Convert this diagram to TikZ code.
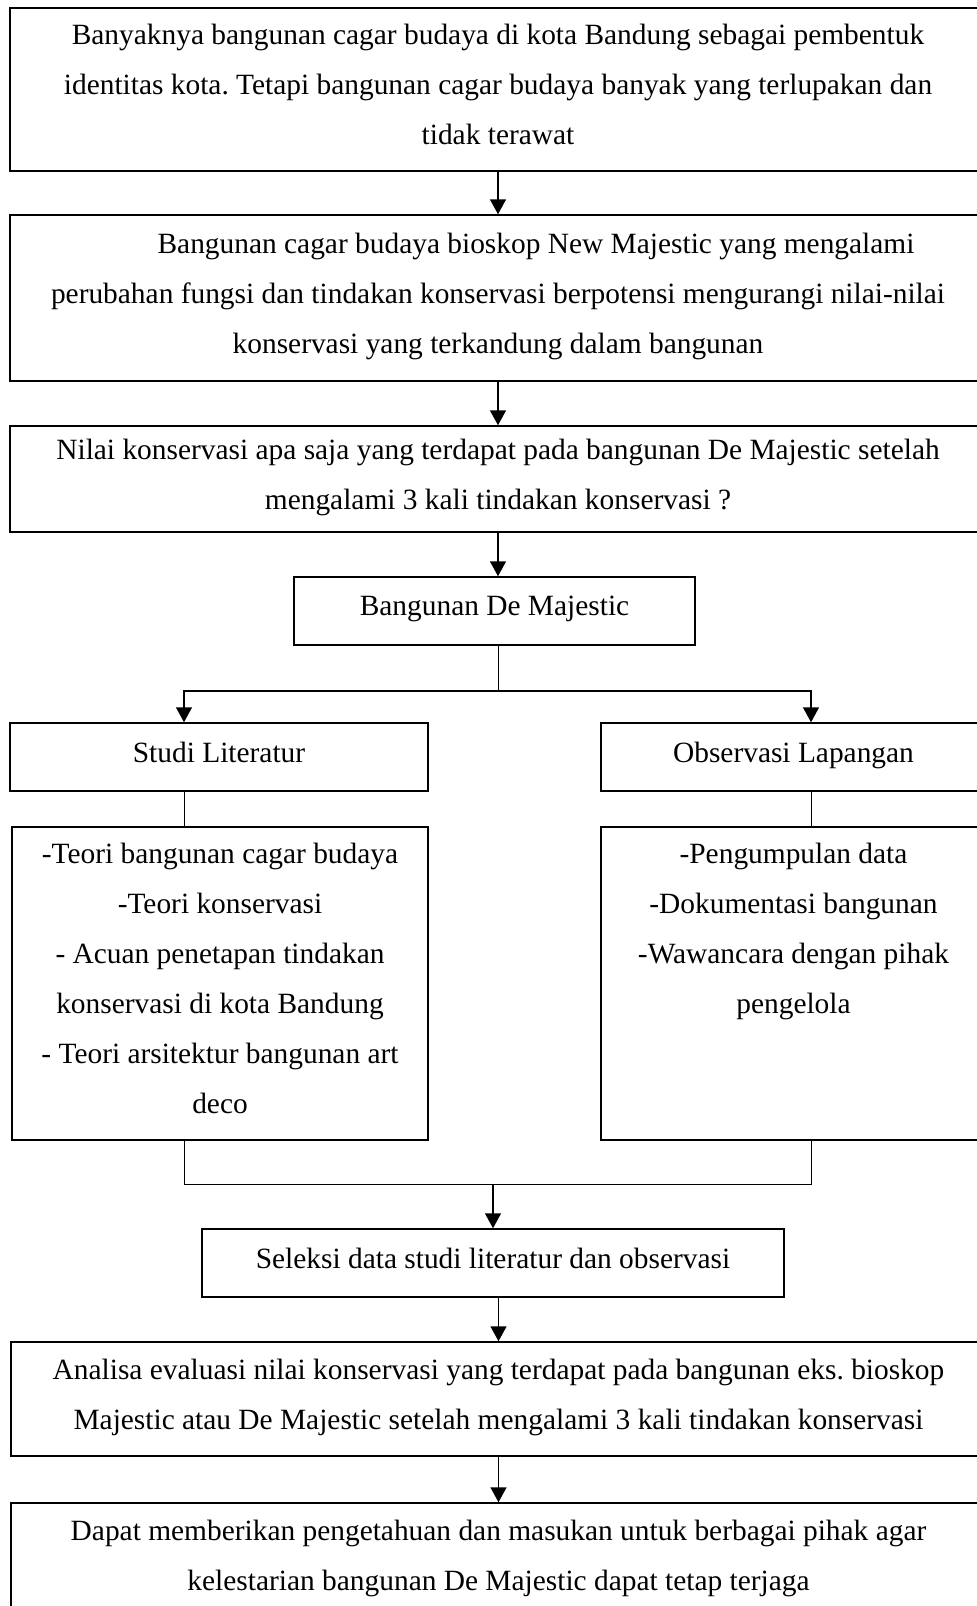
\documentclass[tikz,border=0pt]{standalone}
\usepackage{fontspec}
\setmainfont{Liberation Serif}
\usetikzlibrary{arrows.meta}
\frenchspacing

\tikzset{
  kotak/.style={draw, line width=0.75pt, align=center, inner sep=0pt,
    execute at begin node={\rule[-5.2pt]{0pt}{12pt}},
    execute at end node={\rule[-5.2pt]{0pt}{12pt}}},
  panah/.style={-{Triangle[length=7.5pt,width=8pt]}, line width=0.75pt},
  garis/.style={line width=0.45pt}
}

\begin{document}
\begin{tikzpicture}[x=0.5pt, y=-0.5pt, every node/.style={font=\fontsize{14.7}{25}\selectfont}]
    \useasboundingbox (0,0) rectangle (976,1606);

    \node[kotak, minimum width=488pt, minimum height=81.5pt] (a) at (498, 89.5) {Banyaknya bangunan cagar budaya di kota Bandung sebagai pembentuk\\ identitas kota. Tetapi bangunan cagar budaya banyak yang terlupakan dan\\ tidak terawat};
    \node[kotak, minimum width=488pt, minimum height=83pt] (b) at (498, 298) {\hspace*{38pt}Bangunan cagar budaya bioskop New Majestic yang mengalami\\ perubahan fungsi dan tindakan konservasi berpotensi mengurangi nilai-nilai\\ konservasi yang terkandung dalam bangunan};
    \node[kotak, minimum width=488pt, minimum height=53pt] (c) at (498, 479) {Nilai konservasi apa saja yang terdapat pada bangunan De Majestic setelah\\ mengalami 3 kali tindakan konservasi ?};
    \node[kotak, minimum width=200.5pt, minimum height=34pt] (d) at (494.5, 611) {Bangunan De Majestic};
    \node[kotak, minimum width=209pt, minimum height=34pt] (e) at (219, 757) {Studi Literatur};
    \node[kotak, minimum width=192.5pt, minimum height=34pt] (f) at (793.5, 757) {Observasi Lapangan};
    \node[kotak, minimum width=208pt, minimum height=156.5pt] (g) at (220, 983.5) {-Teori bangunan cagar budaya\\ -Teori konservasi\\ - Acuan penetapan tindakan\\ konservasi di kota Bandung\\ - Teori arsitektur bangunan art\\ deco};
    \node[kotak, minimum width=192.5pt, minimum height=156.5pt] (h) at (793.5, 983.5) {-Pengumpulan data\\ -Dokumentasi bangunan\\ -Wawancara dengan pihak\\ pengelola\\ \mbox{}\\ \mbox{}};
    \node[kotak, minimum width=291pt, minimum height=34pt] (i) at (493, 1263) {Seleksi data studi literatur dan observasi};
    \node[kotak, minimum width=487.5pt, minimum height=57pt] (j) at (498.5, 1399) {Analisa evaluasi nilai konservasi yang terdapat pada bangunan eks. bioskop\\ Majestic atau De Majestic setelah mengalami 3 kali tindakan konservasi};
    \node[kotak, minimum width=487.5pt, minimum height=57pt] (k) at (498.5, 1560) {Dapat memberikan pengetahuan dan masukan untuk berbagai pihak agar\\ kelestarian bangunan De Majestic dapat tetap terjaga};

    \coordinate (p) at (498, 691);
    \coordinate (p1) at (184, 691);
    \coordinate (p2) at (811, 691);
    \coordinate (q) at (493, 1184);
    \coordinate (q1) at (184, 1184);
    \coordinate (q2) at (811, 1184);

    \draw [panah] (a) -- (b);
    \draw [panah] (b) -- (c);
    \draw [panah] (c.south) -- (c.south |- d.north);
    \draw [garis] (d.south -| p) -- (p);
    \draw [panah] (p) -| (e.north -| p1);
    \draw [panah] (p) -| (f.north -| p2);
    \draw [garis] (e.south -| p1) -- (g.north -| p1);
    \draw [garis] (f.south -| p2) -- (h.north -| p2);
    \draw [garis] (g.south -| q1) -- (q1) -- (q2) -- (h.south -| q2);
    \draw [panah] (q) -- (i.north -| q);
    \draw [panah] (i.south -| j) -- (j.north);
    \draw [panah] (j) -- (k);

\end{tikzpicture}
\end{document}
